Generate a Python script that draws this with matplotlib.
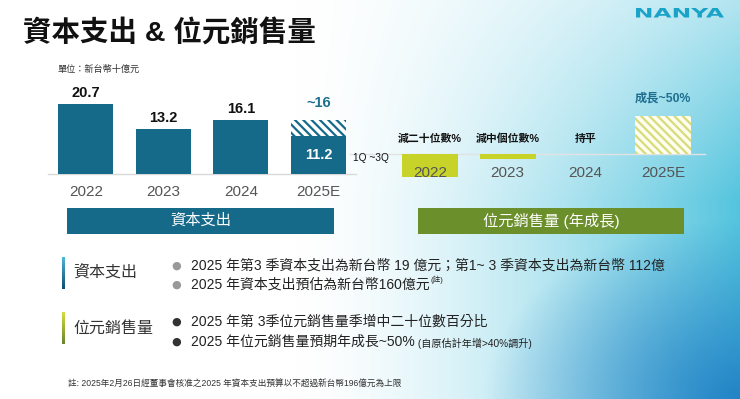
import numpy as np
import matplotlib
matplotlib.use('Agg')
import matplotlib.pyplot as plt
from matplotlib.patches import Rectangle, PathPatch
from matplotlib.textpath import TextPath
from matplotlib.font_manager import FontProperties
from matplotlib.transforms import Affine2D, IdentityTransform

plt.rcParams['font.family'] = ['Liberation Sans', 'Noto Sans CJK TC', 'DejaVu Sans']
plt.rcParams['hatch.linewidth'] = 1.6

# ---- data ----
years = ['2022', '2023', '2024', '2025E']
capex = [20.7, 13.2, 16.1, 11.2]          # 2025E bar = 1Q~3Q actual
capex_labels = ['20.7', '13.2', '16.1', '11.2']
capex_2025_est = 16
bit_growth = [-30, -7, 0, 50]             # relative bar heights, % YoY
bit_labels = ['減二十位數%', '減中個位數%', '持平', '成長~50%']

capex_notes = ['2025 年第3 季資本支出為新台幣 19 億元；第1~ 3 季資本支出為新台幣 112億',
               '2025 年資本支出預估為新台幣160億元']
bit_notes = ['2025 年第 3季位元銷售量季增中二十位數百分比',
             '2025 年位元銷售量預期年成長~50%']
bit_note_extra = ' (自原估計年增>40%調升)'
footnote = '註: 2025年2月26日經董事會核准之2025 年資本支出預算以不超過新台幣196億元為上限'

TEAL = '#156a8a'
TEAL_TXT = '#1f6f8f'
LIME = '#c8d32a'
OLIVE = '#6b8f2b'

W, H = 740, 399


def box(x, y, w, h):
    # pixel box (top-left origin) -> figure fraction rect
    return [x / W, 1 - (y + h) / H, w / W, h / H]


def pt(x, y):
    return x / W, 1 - y / H


fig = plt.figure(figsize=(7.4, 3.99), dpi=100)

# background gradient
bg = fig.add_axes([0, 0, 1, 1], zorder=-10)
yy, xx = np.mgrid[0:1:200j, 0:1:370j]
t = np.clip((xx - 0.40) / 0.60, 0, 1) ** 1.5
t = t * (0.45 + 0.55 * np.clip(yy / 0.5, 0, 1))
cyan = np.array([0.33, 0.77, 0.87])
img = 1 - t[..., None] * (1 - cyan)
r = np.clip(1 - np.hypot((1 - xx) * 1.3, (1 - yy)) / 0.45, 0, 1)
deep = np.array([0.10, 0.47, 0.76])
img = img * (1 - 0.85 * r[..., None]) + deep * 0.85 * r[..., None]
bg.imshow(img, aspect='auto', extent=[0, 1, 0, 1])
bg.axis('off')

# title & logo
fig.text(*pt(23, 34), '資本支出 & 位元銷售量', fontsize=20.5, weight='bold',
         va='center', color='#111111')
tp = TextPath((0, 0), 'NANYA', size=20, prop=FontProperties(family='DejaVu Sans', weight='bold'))
ext = tp.get_extents()
sx = 88 / ext.width
sy = 9.5 / ext.height
tr = Affine2D().translate(-ext.x0, -ext.y0).scale(sx, sy).translate(636, H - 17.5)
logo = PathPatch(tr.transform_path(tp), transform=IdentityTransform(),
                 color='#1aa3c8', lw=0)
fig.add_artist(logo)

fig.text(*pt(57, 69), '單位：新台幣十億元', fontsize=6.6, va='center', color='#333333')

# ---- left chart: capex ----
ax1 = fig.add_axes(box(48, 90, 308, 84))
ax1.set_xlim(-0.49, 3.484)
ax1.set_ylim(0, 84 / 3.38)
ax1.axis('off')
x = np.arange(len(years))
ax1.bar(x, capex, width=0.71, color=TEAL, lw=0)
ax1.bar(x[3], capex_2025_est - capex[3], bottom=capex[3], width=0.71,
        facecolor='white', edgecolor=TEAL, hatch='\\\\\\\\', lw=0)
ax1.axhline(0, color='#d9d9d9', lw=1, clip_on=False, zorder=0)
for i in range(3):
    ax1.annotate(capex_labels[i], (x[i], capex[i]), xytext=(0, 4),
                 textcoords='offset pixels', ha='center', va='bottom',
                 fontsize=10.5, weight='bold', color='#111111')
ax1.annotate('~%d' % capex_2025_est, (x[3], capex_2025_est), xytext=(0, 10),
             textcoords='offset pixels', ha='center', va='bottom',
             fontsize=10.5, weight='bold', color=TEAL_TXT)
ax1.text(x[3], capex[3] / 2, capex_labels[3], ha='center', va='center',
         fontsize=10.5, weight='bold', color='white')
for i, yr in enumerate(years):
    ax1.annotate(yr, (x[i], 0), xytext=(0, -18), textcoords='offset pixels',
                 ha='center', va='center', fontsize=11, color='#555555',
                 annotation_clip=False)
fig.text(*pt(353, 158), '1Q ~3Q', fontsize=7.3, va='center', color='#111111')

# ---- right chart: bit shipments ----
ax2 = fig.add_axes(box(350, 90, 355, 95))
ax2.set_xlim(-1.03, 3.54)
ax2.set_ylim(-(185 - 154) / 0.76, (154 - 90) / 0.76)
ax2.axis('off')
ax2.bar(x[:3], bit_growth[:3], width=0.72, color=LIME, lw=0)
ax2.bar(x[3], bit_growth[3], width=0.72, facecolor='#fdfdf0',
        edgecolor='#d8db78', hatch='\\\\\\\\', lw=0)
ax2.axhline(0, color='#e2e2e2', lw=1, clip_on=False, zorder=0)
for i in range(3):
    ax2.annotate(bit_labels[i], (x[i], 0), xytext=(0, 15),
                 textcoords='offset pixels', ha='center', va='center',
                 fontsize=7.8, weight='bold', color='#111111')
ax2.annotate(bit_labels[3], (x[3], bit_growth[3]), xytext=(0, 17),
             textcoords='offset pixels', ha='center', va='center',
             fontsize=8.8, weight='bold', color=TEAL_TXT)
for i, yr in enumerate(years):
    ax2.annotate(yr, (x[i], 0), xytext=(0, -19), textcoords='offset pixels',
                 ha='center', va='center', fontsize=11, color='#555555',
                 annotation_clip=False, zorder=5)

# banners
for (bx, bw, col, label) in [(67, 267, TEAL, '資本支出'),
                             (418, 266, OLIVE, '位元銷售量 (年成長)')]:
    fig.add_artist(Rectangle((bx / W, 1 - 234 / H), bw / W, 26 / H,
                             transform=fig.transFigure, color=col, lw=0))
    fig.text((bx + bw / 2) / W, 1 - 221 / H, label, ha='center', va='center',
             fontsize=11, color='white')

# ---- bottom notes ----
for (y0, c_top, c_bot) in [(257, (0.30, 0.72, 0.84), (0.05, 0.30, 0.45)),
                           (312, (0.84, 0.87, 0.25), (0.40, 0.52, 0.18))]:
    gax = fig.add_axes(box(62, y0, 2.5, 32))
    g = np.linspace(0, 1, 50)[:, None, None]
    gax.imshow(np.array(c_top) * (1 - g) + np.array(c_bot) * g,
               aspect='auto', extent=[0, 1, 0, 1])
    gax.axis('off')

fig.text(*pt(73, 272), '資本支出', fontsize=11.5, va='center', color='#333333')
fig.text(*pt(73, 328), '位元銷售量', fontsize=11.5, va='center', color='#333333')

renderer = fig.canvas.get_renderer()
line_y = [266, 285]
for i, s in enumerate(capex_notes):
    fig.text(*pt(176, line_y[i]), '●', fontsize=8, ha='center', va='center',
             color='#999999', family='DejaVu Sans')
    tx = fig.text(*pt(191, line_y[i]), s, fontsize=10, va='center', color='#222222')
last = tx.get_window_extent(renderer)
fig.text((last.x1 + 1) / W, (last.y1 - 2) / H, '(註)', fontsize=5.5,
         va='center', color='#222222')

line_y = [322, 342]
for i, s in enumerate(bit_notes):
    fig.text(*pt(176, line_y[i]), '●', fontsize=8, ha='center', va='center',
             color='#333333', family='DejaVu Sans')
    tx = fig.text(*pt(191, line_y[i]), s, fontsize=10, va='center', color='#222222')
last = tx.get_window_extent(renderer)
fig.text(last.x1 / W, 1 - 343 / H, bit_note_extra, fontsize=7.3,
         va='center', color='#222222')

fig.text(*pt(68, 383), footnote, fontsize=6.2, va='center', color='#333333')

fig.savefig('out.png', dpi=100)
